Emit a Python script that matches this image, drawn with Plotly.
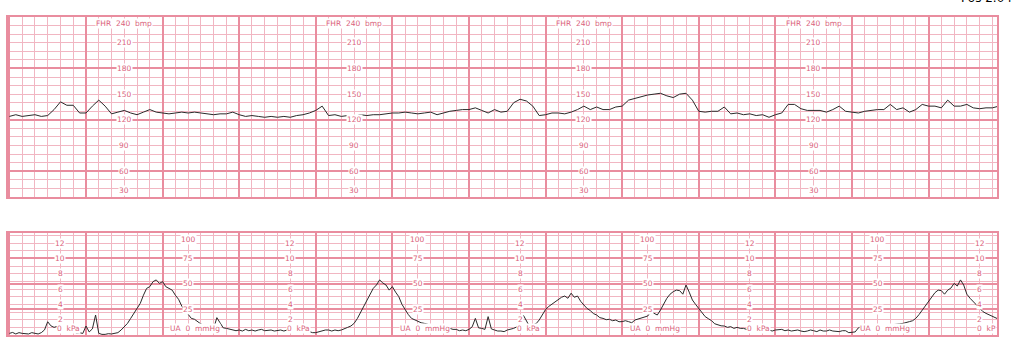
import plotly.graph_objects as go

# ---------------- data ----------------
FHR_STEP_S = 5.0   # sampling interval of the FHR trace, seconds
UA_STEP_S = 2.5    # sampling interval of the UA trace, seconds
fhr_bpm = [124, 126, 124, 125, 126, 124, 125, 132, 141, 137, 137, 128, 128, 136, 143, 136,
           127, 129, 131, 128, 126, 129, 132, 129, 128, 127, 128, 129, 128, 129, 128, 127,
           126, 127, 127, 129, 126, 124, 125, 124, 123, 124, 123, 124, 123, 125, 126, 128,
           131, 136, 125, 126,
           124, 125, 124, 126, 125, 126, 126, 127, 128, 128, 129, 128, 127, 128, 129, 126,
           128, 130, 131, 132, 132, 134, 131, 128, 132, 129, 130, 140, 144, 142, 136, 125,
           126, 128, 128, 127, 129, 132, 136, 132, 135, 132, 132, 135, 136, 143, 145, 147,
           149, 150, 151, 148,
           146, 150, 151, 143, 130, 129, 130, 130, 135, 127, 128, 126, 127, 125, 126, 123,
           126, 128, 138, 138, 133, 131, 131, 131, 129, 132, 136, 130, 129, 128, 130, 131,
           132, 132, 138, 132, 134, 129, 132, 138, 136, 136, 134, 143, 136, 136, 138, 134,
           133, 134, 134, 136]

ua_mmhg = [1.6, 2.5, 1.0, 2.3, 1.6, 1.0, 1.0, 2.3, 1.6, 1.0,
           2.3, 5.0, 13.0, 9.0, 7.5, 8.5, 5.5, 6.0, 4.0, 3.0,
           3.3, 2.0, 2.3, 1.5, 8.8, 3.0, 6.0, 19.6, 1.6, 0.6,
           0.6, 1.3, 1.0, 1.6, 2.3, 4.9, 8.2, 11.4, 16.3, 21.2,
           26.0, 31.0, 39.0, 45.7, 47.4, 52.3, 54.0, 50.6, 52.3, 47.4,
           45.7, 44.0, 39.0, 35.0, 28.4, 24.5, 19.6, 16.3, 15.4, 13.0,
           10.8, 9.8, 8.2, 7.0, 6.5, 17.0, 12.0, 7.0, 6.5, 5.5,
           4.9, 4.2, 4.9, 3.9, 5.5, 4.2, 4.9, 3.9, 4.9, 5.5,
           4.2, 4.9, 4.9, 3.9, 4.2, 4.9, 3.9, 4.9, 4.9, 3.9,
           3.3, 4.2, 5.5, 4.2, 3.3, 2.3, 2.3, 3.3, 3.9, 4.9,
           4.9, 3.9, 4.9, 4.2,
           4.9, 6.5, 7.5, 8.8, 11.4, 16.0, 22.0, 29.0, 34.3, 40.0,
           45.7, 49.0, 54.0, 51.0, 49.0, 44.0, 47.4, 42.0, 37.6, 30.0,
           24.5, 20.0, 16.3, 14.7, 13.1, 12.0, 11.4, 10.5, 9.8, 9.0,
           8.2, 7.0, 6.5, 5.5, 6.5, 5.5, 5.5, 4.2, 4.9, 4.2,
           5.5, 8.0, 16.3, 7.0, 6.5, 5.5, 18.0, 6.0, 4.9, 3.9,
           3.9, 3.3, 4.9, 5.5, 6.5, 8.0, 8.8, 19.6, 13.1, 8.2,
           9.8, 11.0, 14.7, 20.0, 25.0, 28.0, 30.4, 33.0, 35.0, 37.0,
           38.2, 36.0, 41.0, 37.0, 38.2, 33.0, 29.4, 26.0, 23.9, 21.0,
           19.6, 17.0, 16.3, 15.0, 15.4, 14.0, 14.7, 13.0, 13.1, 14.0,
           13.1, 12.0, 14.7, 15.5, 16.3, 17.5, 18.6, 22.9, 21.2, 19.6,
           24.5, 30.0, 36.0, 40.0,
           42.5, 44.0, 43.5, 40.0, 49.0, 42.0, 34.3, 30.0, 26.0, 22.0,
           18.0, 16.0, 14.0, 11.0, 9.8, 9.0, 8.8, 7.5, 8.2, 6.5,
           7.5, 6.5, 6.5, 5.5, 6.5, 5.5, 7.5, 5.5, 4.9, 5.5,
           4.9, 3.9, 4.9, 5.5, 5.5, 4.2, 4.9, 3.9, 4.2, 4.9,
           3.9, 3.3, 3.9, 4.9, 4.2, 3.3, 4.9, 3.9, 3.9, 4.9,
           3.9, 3.3, 3.3, 4.2, 4.2, 2.3, 2.3, 3.0, 7.0, 8.2,
           4.9, 5.5, 4.9, 5.5, 6.5, 7.0, 7.5, 8.5, 9.8, 10.0,
           10.8, 11.0, 11.4, 12.0, 13.1, 14.0, 16.3, 20.0, 24.5, 28.0,
           32.7, 38.0, 41.5, 44.0, 43.5, 40.0, 44.0, 46.0, 50.6, 48.0,
           54.0, 49.0, 40.0, 36.0, 32.7, 29.0, 26.0, 23.0, 21.2, 19.6,
           18.0, 16.5, 15.4]

fhr_ticks = [210, 180, 150, 120, 90, 60, 30]
fhr_title = "FHR  240  bmp"
kpa_ticks = [12, 10, 8, 6, 4, 2]
mmhg_ticks = [100, 75, 50, 25]
kpa_zero_labels = ["0  kPa", "0  kPa", "0  kPa", "0  kPa", "0  kP"]
ua_zero_label = "UA  0  mmHg"
KPA_TO_MMHG = 7.50062

# label columns (seconds along the strip)
fhr_cols = [90, 270, 450, 630]
kpa_cols = [40, 220, 400, 580, 760]
mmhg_cols = [140, 320, 500, 680]

t_fhr = [i * FHR_STEP_S for i in range(len(fhr_bpm))]
t_ua = [i * UA_STEP_S for i in range(len(ua_mmhg))]

# ---------------- style ----------------
GRID_MINOR = "#f1b6c2"
GRID_MAJOR = "#e98d9f"
LABEL = "#da5f7c"
TRACE = "#2a2a2a"
FONT = "DejaVu Sans"

fig = go.Figure()
fig.add_trace(go.Scatter(x=t_fhr, y=fhr_bpm, mode="lines", xaxis="x", yaxis="y",
                         line=dict(color=TRACE, width=1), showlegend=False, hoverinfo="skip"))
fig.add_trace(go.Scatter(x=t_ua, y=ua_mmhg, mode="lines", xaxis="x2", yaxis="y2",
                         line=dict(color=TRACE, width=1), showlegend=False, hoverinfo="skip"))

xcommon = dict(range=[-1.1, 773.6], showticklabels=False, ticks="", zeroline=False,
               showgrid=True, dtick=60, tick0=0, gridcolor=GRID_MAJOR, gridwidth=1.6,
               minor=dict(dtick=10, tick0=0, showgrid=True, gridcolor=GRID_MINOR, gridwidth=1),
               showline=True, mirror=True, linecolor=GRID_MAJOR, linewidth=2)

fig.update_layout(
    width=1012, height=350,
    margin=dict(l=8, r=15, t=17, b=15),
    paper_bgcolor="white", plot_bgcolor="white",
    xaxis=dict(domain=[0, 1], anchor="y", **xcommon),
    xaxis2=dict(domain=[0, 1], anchor="y2", **xcommon),
    yaxis=dict(domain=[0.434, 1], range=[30, 240], anchor="x",
               showticklabels=False, ticks="", zeroline=False,
               showgrid=True, dtick=60, tick0=0, gridcolor=GRID_MAJOR, gridwidth=1.6,
               minor=dict(dtick=10, tick0=0, showgrid=True, gridcolor=GRID_MINOR, gridwidth=1),
               showline=True, mirror=True, linecolor=GRID_MAJOR, linewidth=2),
    yaxis2=dict(domain=[0, 0.3208], range=[0, 100], anchor="x2",
                showticklabels=False, ticks="", zeroline=False,
                showgrid=True, dtick=25, tick0=0, gridcolor=GRID_MAJOR, gridwidth=1.6,
                minor=dict(dtick=KPA_TO_MMHG, tick0=0, showgrid=True, gridcolor=GRID_MINOR, gridwidth=1),
                showline=True, mirror=True, linecolor=GRID_MAJOR, linewidth=2),
)

ann = []
lab_font = dict(family=FONT, size=7.5, color=LABEL)


def lab(x, y, text, xref="x", yref="y", xanchor="center", yanchor="middle", xshift=0, yshift=0):
    ann.append(dict(x=x, y=y, xref=xref, yref=yref, text=text, showarrow=False,
                    xanchor=xanchor, yanchor=yanchor, xshift=xshift, yshift=yshift,
                    font=lab_font, bgcolor="white", borderpad=0))


for c in fhr_cols:
    lab(c, 240, fhr_title, yanchor="top", yshift=-1)
    for v in fhr_ticks:
        if v == 30:
            lab(c, v, str(v), yanchor="bottom", yshift=1)
        else:
            lab(c, v, str(v))

for i, c in enumerate(kpa_cols):
    for v in kpa_ticks:
        lab(c, v * KPA_TO_MMHG, str(v), xref="x2", yref="y2")
    lab(c, 0, kpa_zero_labels[i], xref="x2", yref="y2", xanchor="left", xshift=-4, yanchor="bottom", yshift=1)

for c in mmhg_cols:
    for v in mmhg_ticks:
        if v == 100:
            lab(c, v, str(v), xref="x2", yref="y2", yanchor="top", yshift=-1)
        else:
            lab(c, v, str(v), xref="x2", yref="y2")
    lab(c, 0, ua_zero_label, xref="x2", yref="y2", xshift=7, yanchor="bottom", yshift=1)

ann.append(dict(x=0.962, y=1.06, xref="paper", yref="paper", text="Pos 2.0 h", showarrow=False,
                xanchor="left", yanchor="middle", font=dict(family=FONT, size=12, color="black")))

fig.update_layout(annotations=ann)
fig.write_html("out.html")
